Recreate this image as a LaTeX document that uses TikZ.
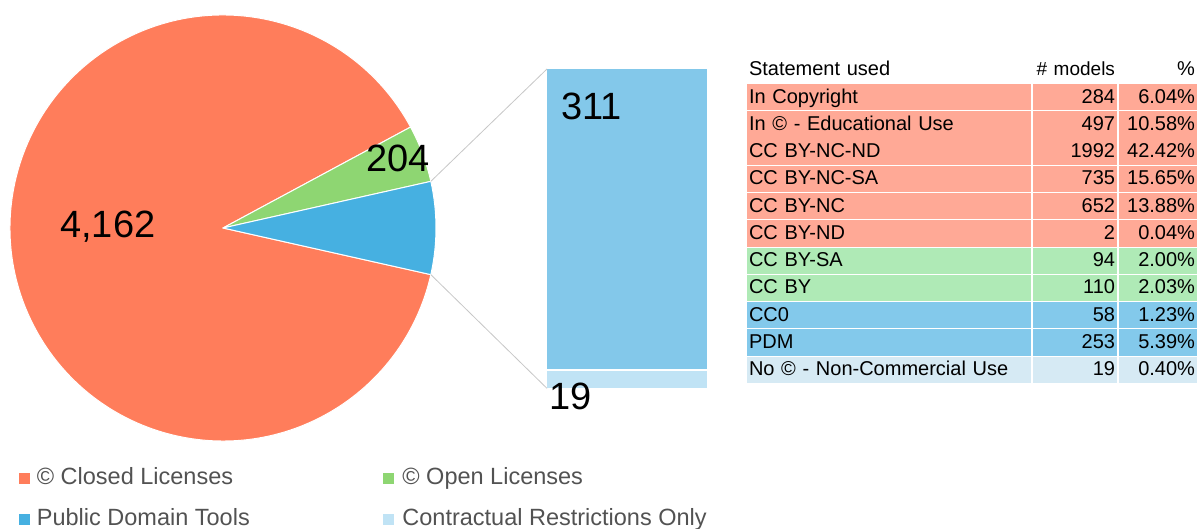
\documentclass[tikz,border=0pt]{standalone}
\usepackage{fontspec}
\setmainfont{Liberation Sans}
\usetikzlibrary{positioning}

\definecolor{closedc}{RGB}{255,125,91}
\definecolor{openc}{RGB}{142,214,114}
\definecolor{pdc}{RGB}{70,176,225}
\definecolor{barhi}{RGB}{131,200,234}
\definecolor{barlo}{RGB}{192,227,245}
\definecolor{closedt}{RGB}{255,169,150}
\definecolor{opent}{RGB}{175,234,182}
\definecolor{pdt}{RGB}{131,201,235}
\definecolor{crt}{RGB}{214,234,244}

\begin{document}
\begin{tikzpicture}[x=1pt,y=1pt,
	slice/.style={draw=white,line width=1pt,line join=round},
	bignum/.style={font=\fontsize{38}{40}\selectfont,inner sep=0pt,anchor=base west},
	zoomline/.style={draw=black!22,line width=0.8pt},
	barseg/.style={inner sep=0pt,minimum width=160pt,anchor=north west},
	cell/.style={inner xsep=2pt,inner ysep=0pt,minimum height=26.3pt,text height=15pt,text depth=3pt,font=\fontsize{20}{22}\selectfont},
	keysq/.style={inner sep=0pt,minimum size=11pt},
	keytxt/.style={inner sep=0pt,text height=17pt,text depth=4pt,text=black!68,font=\fontsize{23.5}{26}\selectfont}]
	\useasboundingbox (0,0) rectangle (1204,529);

	% pie
	\coordinate (pc) at (223,301);
	\fill[closedc,slice] (pc) -- ++(28.29:213) arc[start angle=28.29,end angle=347.35,radius=213] -- cycle;
	\fill[openc,slice] (pc) -- ++(12.65:213) arc[start angle=12.65,end angle=28.29,radius=213] -- cycle;
	\fill[pdc,slice] (pc) -- ++(-12.65:213) arc[start angle=-12.65,end angle=12.65,radius=213] -- cycle;
	\path (pc) ++(12.65:213) coordinate (pa) (pc) ++(-12.65:213) coordinate (pb);

	% bar of pie
	\node[barseg,fill=barhi,minimum height=300pt] (hi) at (547,460) {};
	\node[barseg,fill=barlo,minimum height=17pt] (lo) at (547,158) {};
	\draw[zoomline] (pa) -- (hi.north west);
	\draw[zoomline] (pb) -- (lo.south west);

	\node[bignum] (n1) at (60,291) {4,162};
	\node[bignum] (n2) at (366,357) {204};
	\node[bignum] (n3) at (561,409) {311};
	\node[bignum] (n4) at (549,119) {19};

	% table
	\foreach \nm/\cnt/\pct/\col [count=\i from 0] in {
		Statement used/\mbox{\fontsize{19}{22}\selectfont\#\ models}/\%/white,
		In Copyright/284/6.04\%/closedt,
		In © - Educational Use/497/10.58\%/closedt,
		CC BY-NC-ND/1992/42.42\%/closedt,
		CC BY-NC-SA/735/15.65\%/closedt,
		CC BY-NC/652/13.88\%/closedt,
		CC BY-ND/2/0.04\%/closedt,
		CC BY-SA/94/2.00\%/opent,
		CC BY/110/2.03\%/opent,
		CC0/58/1.23\%/pdt,
		PDM/253/5.39\%/pdt,
		No © - Non-Commercial Use/19/0.40\%/crt}{
		\pgfmathsetmacro\yc{431.9-27.27*(\i-1)}
		\node[cell,fill=\col,text width=280pt,align=left] (s\i) at (889,\yc) {\nm};
		\node[cell,fill=\col,text width=80pt,align=right] (c\i) at (1075,\yc) {\cnt};
		\node[cell,fill=\col,text width=74pt,align=right] (p\i) at (1158,\yc) {\pct};
	}

	% legend
	\node[keysq,fill=closedc] (k1) at (24,50.5) {};
	\node[keytxt,right=7pt of k1] (t1) {© Closed Licenses};
	\node[keysq,fill=openc] (k2) at (388.5,50.5) {};
	\node[keytxt,right=8pt of k2] (t2) {© Open Licenses};
	\node[keysq,fill=pdc] (k3) at (24,9.5) {};
	\node[keytxt,right=7pt of k3] (t3) {Public Domain Tools};
	\node[keysq,fill=barlo] (k4) at (388.5,9.5) {};
	\node[keytxt,right=8pt of k4] (t4) {Contractual Restrictions Only};
\end{tikzpicture}
\end{document}
